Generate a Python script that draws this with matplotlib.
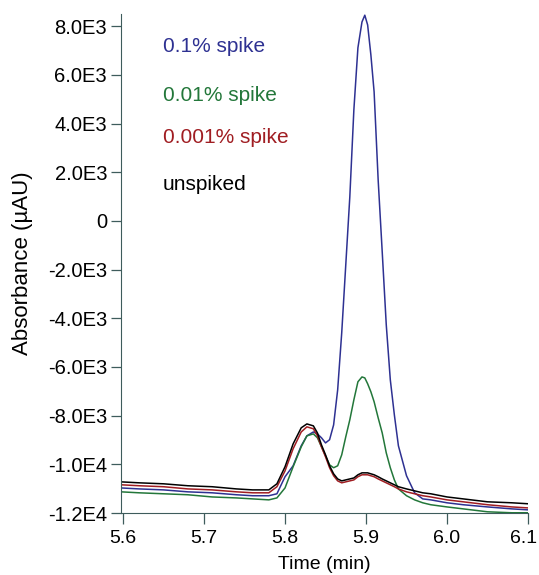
import matplotlib
matplotlib.use("Agg")
import matplotlib.pyplot as plt
from matplotlib.ticker import FixedLocator, FixedFormatter
from matplotlib.transforms import ScaledTranslation

# retention time (min)
time = [5.5975, 5.62, 5.65, 5.68, 5.71, 5.74, 5.76, 5.78, 5.79, 5.80,
        5.81, 5.82, 5.827, 5.835, 5.84, 5.845, 5.85, 5.855, 5.86, 5.865,
        5.87, 5.875, 5.88, 5.885, 5.89, 5.895, 5.8985, 5.902, 5.906, 5.91,
        5.915, 5.92, 5.925, 5.93, 5.935, 5.94, 5.95, 5.96, 5.97, 5.98,
        6.0, 6.02, 6.05, 6.08, 6.1]

# absorbance (uAU)
spike_01 = [-10970, -11010, -11050, -11130, -11170, -11250, -11290, -11290, -11210, -10510,
            -10060, -9240, -8830, -8670, -8750, -8910, -9120, -8990, -8380, -6940,
            -4600, -1810, 990, 4560, 7110, 8170, 8450, 8050, 6820, 5300,
            1680, -1270, -4270, -6530, -7970, -9240, -10470, -11170, -11420, -11460,
            -11580, -11660, -11750, -11830, -11870]
spike_001 = [-11130, -11170, -11210, -11250, -11340, -11380, -11420, -11460, -11380, -10970,
             -10100, -9280, -8830, -8750, -8910, -9280, -9650, -10020, -10140, -10060,
             -9610, -8870, -8170, -7350, -6610, -6410, -6450, -6690, -7020, -7430,
             -8090, -8710, -9530, -10140, -10640, -11010, -11290, -11460, -11580, -11660,
             -11750, -11830, -11950, -11990, -11990]
spike_0001 = [-10840, -10880, -10920, -11010, -11050, -11130, -11170, -11170, -10920, -10270,
              -9360, -8670, -8460, -8540, -8830, -9280, -9690, -10140, -10470, -10680,
              -10760, -10720, -10680, -10640, -10510, -10430, -10430, -10430, -10470, -10510,
              -10600, -10680, -10760, -10840, -10920, -11010, -11130, -11210, -11290, -11340,
              -11460, -11540, -11660, -11750, -11790]
unspiked = [-10720, -10760, -10800, -10880, -10920, -11010, -11050, -11050, -10800, -10100,
            -9160, -8500, -8340, -8420, -8710, -9200, -9610, -10060, -10390, -10600,
            -10680, -10640, -10600, -10560, -10430, -10350, -10350, -10350, -10390, -10430,
            -10510, -10600, -10680, -10760, -10840, -10920, -11010, -11090, -11170, -11210,
            -11340, -11420, -11540, -11580, -11620]

labels = ["0.1% spike", "0.01% spike", "0.001% spike", "unspiked"]
series = [spike_01, spike_001, spike_0001, unspiked]
colors = ["#2e3192", "#23773a", "#a01d22", "#000000"]

y_ticks = [8000, 6000, 4000, 2000, 0, -2000, -4000, -6000, -8000, -10000, -12000]
y_tick_labels = ["8.0E3", "6.0E3", "4.0E3", "2.0E3", "0", "-2.0E3", "-4.0E3",
                 "-6.0E3", "-8.0E3", "-1.0E4", "-1.2E4"]
x_ticks = [5.6, 5.7, 5.8, 5.9, 6.0, 6.1]
x_tick_labels = ["5.6", "5.7", "5.8", "5.9", "6.0", "6.1"]

plt.rcParams["font.family"] = ["Liberation Sans", "DejaVu Sans"]
axis_color = "#3e5c5c"

fig = plt.figure(figsize=(5.39, 5.75), dpi=100)
ax = fig.add_axes([0.2245, 0.1078, 0.7551, 0.8679])

for vals, col in zip(series, colors):
    ax.plot(time, vals, color=col, lw=1.1)

ax.set_xlim(5.5975, 6.1)
ax.set_ylim(-12000, 8500)

ax.spines["top"].set_visible(False)
ax.spines["right"].set_visible(False)
ax.spines["left"].set_color(axis_color)
ax.spines["bottom"].set_color(axis_color)

ax.yaxis.set_major_locator(FixedLocator(y_ticks))
ax.yaxis.set_major_formatter(FixedFormatter(y_tick_labels))
ax.xaxis.set_major_locator(FixedLocator(x_ticks))
ax.xaxis.set_major_formatter(FixedFormatter(x_tick_labels))
ax.tick_params(axis="y", length=7, width=0.9, color=axis_color, pad=3, labelsize=14.5)
ax.tick_params(axis="x", length=8, width=0.9, color=axis_color, pad=4, labelsize=14)

# last x label sits at the right edge: nudge it in a little
last = ax.get_xticklabels()[-1]
last.set_transform(last.get_transform() + ScaledTranslation(-3 / 72, 0, fig.dpi_scale_trans))

ax.set_xlabel("Time (min)", fontsize=14, labelpad=7)
ax.set_ylabel("Absorbance (µAU)", fontsize=16, labelpad=11)

ys = [0.934, 0.836, 0.752, 0.659]
for lab, col, yy in zip(labels, colors, ys):
    ax.text(0.103, yy, lab, color=col, fontsize=15, ha="left", va="center",
            transform=ax.transAxes)

fig.savefig("out.png", dpi=100)
